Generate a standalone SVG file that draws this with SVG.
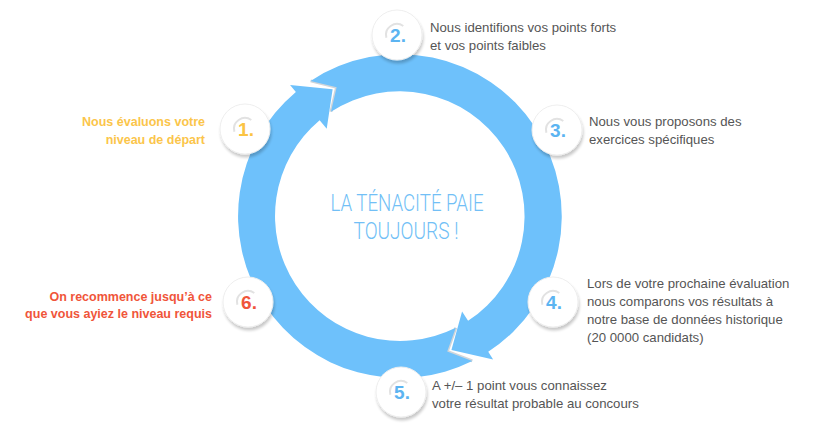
<svg xmlns="http://www.w3.org/2000/svg" width="820" height="433" viewBox="0 0 820 433">
<defs>
<filter id="sh" x="-30%" y="-30%" width="160%" height="170%">
<feGaussianBlur in="SourceAlpha" stdDeviation="1.6"/>
<feOffset dx="1" dy="3"/>
<feComponentTransfer><feFuncA type="linear" slope="0.22"/></feComponentTransfer>
<feMerge><feMergeNode/><feMergeNode in="SourceGraphic"/></feMerge>
</filter>
</defs>
<style>
.ring{fill:#6ec1fb}
.notch{fill:none;stroke:#cfd5da;stroke-width:3;stroke-linejoin:miter}
.disc{fill:#fff;stroke:#eeeeee;stroke-width:1}
.hl{fill:none;stroke:#e2e2e2;stroke-width:2}
.num{font-family:"Liberation Sans",Arial,sans-serif;font-weight:bold;font-size:19px;text-anchor:middle}
.blue{fill:#5cb4f1}
.body{font-family:"Liberation Sans",Arial,sans-serif;font-size:13.2px;fill:#555555}
.bold{font-family:"Liberation Sans",Arial,sans-serif;font-weight:bold;font-size:12.5px;text-anchor:end}
.center{font-family:Roboto,"Liberation Sans",sans-serif;font-weight:300;font-size:24px;fill:#72bff6;text-anchor:middle}
</style>
<rect width="820" height="433" fill="#ffffff"/>
<g id="connectors">
<polyline class="notch" points="310.59,80.91 336.64,87.24 331.01,111.76"/>
<polyline class="notch" points="472.28,360.97 447.2,351.52 455.78,327.86"/>
<path id="arcA" class="ring" d="M310.59,80.91 A162,162 0 1 1 488.23,351.87 L493.13,359.42 L451.43,349.97 L462.08,311.61 L468.08,320.84 A125,125 0 1 0 331.01,111.76 L336.64,87.24 Z"/>
<path id="arcB" class="ring" d="M472.28,360.97 A162,162 0 0 1 295.87,91.91 L290.08,85.01 L332.63,89.3 L326.72,128.68 L319.65,120.25 A125,125 0 0 0 455.78,327.86 L447.2,351.52 Z"/>
</g>
<g id="title">
<text class="center" x="407" y="211" textLength="153" lengthAdjust="spacingAndGlyphs">LA TÉNACITÉ PAIE</text>
<text class="center" x="406" y="239" textLength="105" lengthAdjust="spacingAndGlyphs">TOUJOURS !</text>
</g>
<g id="step1">
<circle class="disc" cx="245" cy="129" r="25" filter="url(#sh)"/>
<path class="hl" d="M234.37,131.85 A11,11 0 0 1 251.31,119.99"/>
<text class="num" x="246" y="136" fill="#fbc443">1.</text>
<text class="bold" fill="#fbc54a"><tspan x="205" y="126">Nous évaluons votre</tspan><tspan x="205" y="143.5">niveau de départ</tspan></text>
</g>
<g id="step2">
<circle class="disc" cx="397" cy="35" r="25" filter="url(#sh)"/>
<path class="hl" d="M386.37,37.85 A11,11 0 0 1 403.31,25.99"/>
<text class="num blue" x="398" y="42">2.</text>
<text class="body"><tspan x="430" y="32">Nous identifions vos points forts</tspan><tspan x="430" y="50">et vos points faibles</tspan></text>
</g>
<g id="step3">
<circle class="disc" cx="557" cy="130" r="25" filter="url(#sh)"/>
<path class="hl" d="M546.37,132.85 A11,11 0 0 1 563.31,120.99"/>
<text class="num blue" x="558" y="137">3.</text>
<text class="body"><tspan x="589" y="126">Nous vous proposons des</tspan><tspan x="589" y="144">exercices spécifiques</tspan></text>
</g>
<g id="step4">
<circle class="disc" cx="553" cy="302" r="25" filter="url(#sh)"/>
<path class="hl" d="M542.37,304.85 A11,11 0 0 1 559.31,292.99"/>
<text class="num blue" x="554" y="309">4.</text>
<text class="body"><tspan x="587" y="288">Lors de votre prochaine évaluation</tspan><tspan x="587" y="306">nous comparons vos résultats à</tspan><tspan x="587" y="324">notre base de données historique</tspan><tspan x="587" y="342">(20 0000 candidats)</tspan></text>
</g>
<g id="step5">
<circle class="disc" cx="401" cy="392" r="25" filter="url(#sh)"/>
<path class="hl" d="M390.37,394.85 A11,11 0 0 1 407.31,382.99"/>
<text class="num blue" x="402" y="399">5.</text>
<text class="body"><tspan x="432" y="390">A +/– 1 point vous connaissez</tspan><tspan x="432" y="408">votre résultat probable au concours</tspan></text>
</g>
<g id="step6">
<circle class="disc" cx="248" cy="302" r="25" filter="url(#sh)"/>
<path class="hl" d="M237.37,304.85 A11,11 0 0 1 254.31,292.99"/>
<text class="num" x="249" y="309" fill="#f0553a">6.</text>
<text class="bold" fill="#f0553a"><tspan x="212" y="300.5">On recommence jusqu’à ce</tspan><tspan x="212" y="318">que vous ayiez le niveau requis</tspan></text>
</g>
</svg>
